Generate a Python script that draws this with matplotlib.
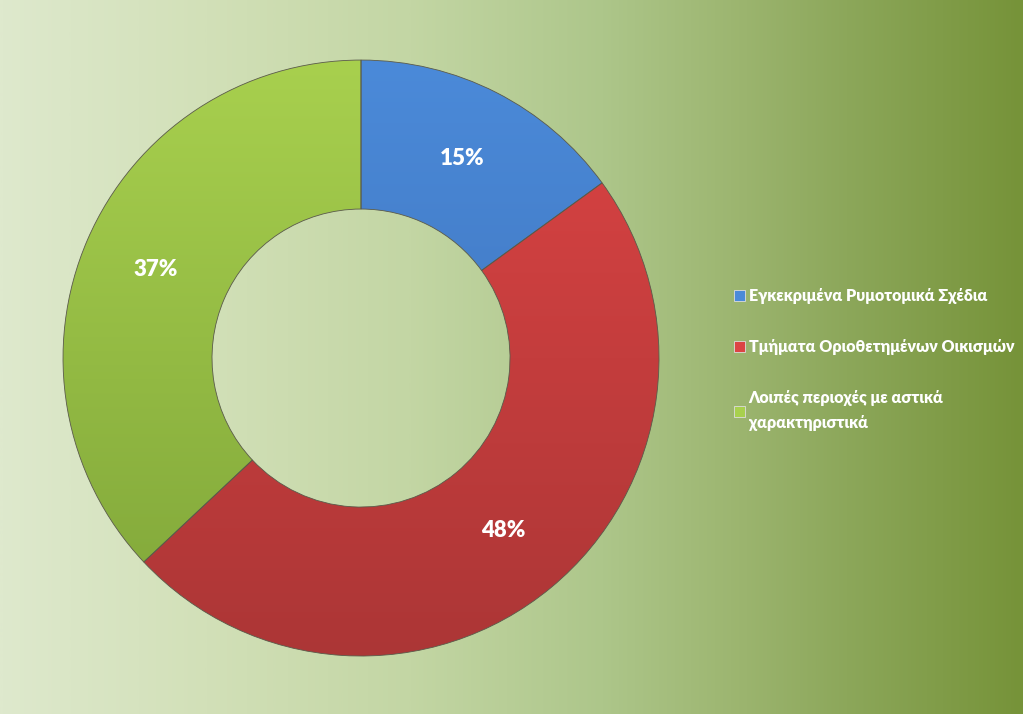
"""Donut chart: share of areas by planning category."""

import numpy as np
import matplotlib
matplotlib.use("Agg")
import matplotlib.pyplot as plt
from matplotlib.colors import LinearSegmentedColormap, to_rgb

plt.rcParams["font.family"] = ["Lato", "Open Sans", "DejaVu Sans"]

# data
categories = [
    "Εγκεκριμένα Ρυμοτομικά Σχέδια",
    "Τμήματα Οριοθετημένων Οικισμών",
    "Λοιπές περιοχές με αστικά\nχαρακτηριστικά",
]
shares = [15, 48, 37]

# wedge colours: (top, bottom) of the vertical shading
top_colors = ["#4b8ad9", "#dc4444", "#a8d04e"]
bottom_colors = ["#3b6db3", "#ac3636", "#7fa539"]


def main() -> None:
    fig = plt.figure(figsize=(10.23, 7.14), dpi=100)

    # background gradient, light green left to olive right
    bg = fig.add_axes([0, 0, 1, 1], zorder=0)
    bg_cmap = LinearSegmentedColormap.from_list(
        "bg",
        [(0.0, "#dee9cd"), (0.2, "#d2e0b8"), (0.4, "#c3d6a4"), (0.59, "#adc68a"),
         (0.73, "#9bb46e"), (0.83, "#8ca75a"), (1.0, "#769339")],
    )
    bg.imshow(np.linspace(0, 1, 512)[None, :], aspect="auto", cmap=bg_cmap,
              extent=[0, 1, 0, 1])
    bg.set_axis_off()

    ax = fig.add_axes([0.0616, 0.0812, 0.5826, 0.8347], zorder=1)
    wedges, texts, autotexts = ax.pie(
        shares,
        startangle=90,
        counterclock=False,
        radius=1.0,
        colors=top_colors,
        autopct="%1.0f%%",
        pctdistance=0.75,
        wedgeprops=dict(width=0.5, edgecolor="#5a5a4a", linewidth=0.6),
        textprops=dict(color="white", fontsize=16, fontweight="heavy"),
    )

    # vertical shading inside each wedge
    for w, c_top, c_bot in zip(wedges, top_colors, bottom_colors):
        cmap = LinearSegmentedColormap.from_list("w", [to_rgb(c_bot), to_rgb(c_top)])
        im = ax.imshow(np.linspace(0, 1, 256)[:, None], aspect="auto", cmap=cmap,
                       extent=[-1, 1, -1, 1], origin="lower", zorder=1.5)
        im.set_clip_path(w)
        w.set_facecolor("none")
        w.set_zorder(2)
    for t in autotexts:
        t.set_zorder(3)
    ax.set_xlim(-1, 1)
    ax.set_ylim(-1, 1)
    ax.set_aspect("auto")
    ax.set_axis_off()

    handles = [plt.Rectangle((0, 0), 1, 1, facecolor=c, edgecolor="#dddddd", linewidth=0.6)
               for c in top_colors]
    leg = fig.legend(
        handles, categories,
        loc="upper left",
        bbox_to_anchor=(0.703, 0.617),
        frameon=False,
        handlelength=0.7,
        handleheight=0.7,
        handletextpad=0.25,
        labelspacing=2.2,
        prop=dict(size=11.5, weight="heavy"),
        labelcolor="white",
    )
    for t in leg.get_texts():
        t.set_linespacing(1.7)

    fig.savefig("out.png", dpi=100)


if __name__ == "__main__":
    main()
